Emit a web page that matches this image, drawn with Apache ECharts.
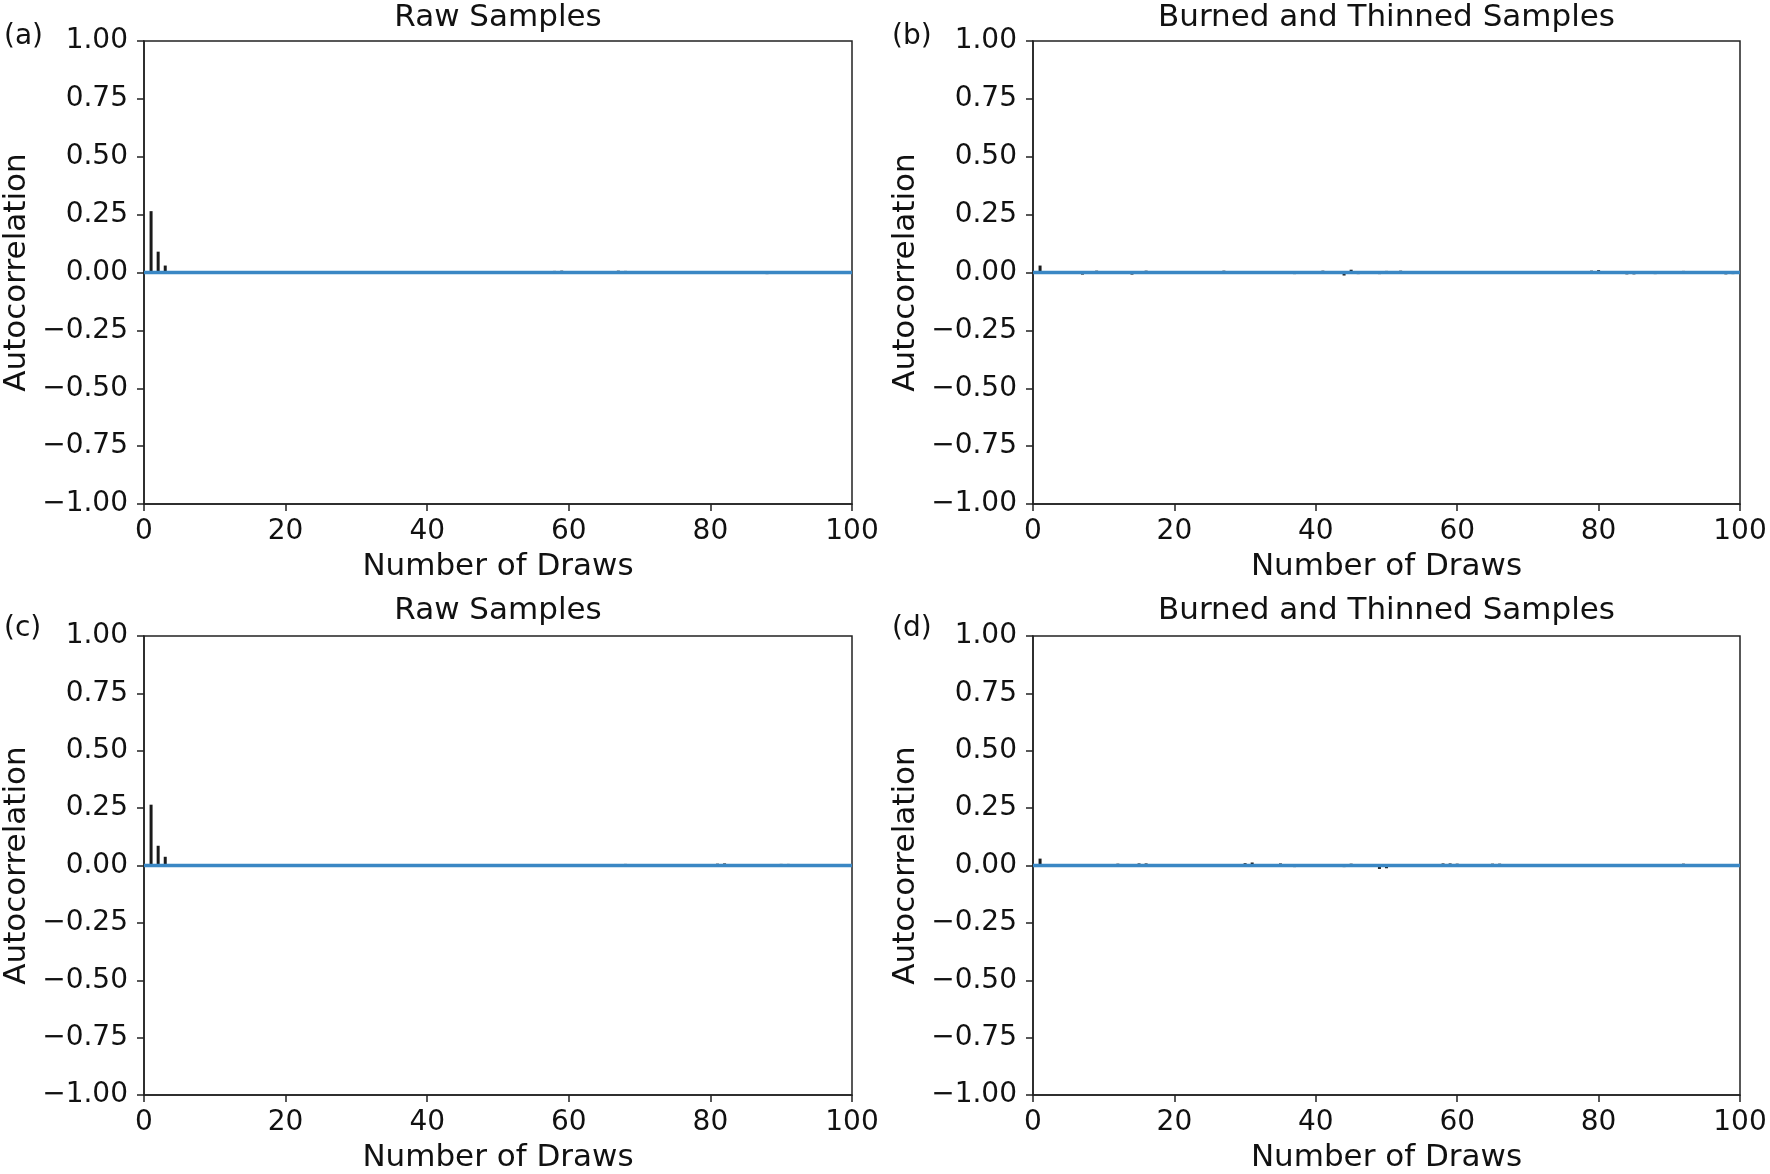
<!DOCTYPE html>
<html>
<head>
<meta charset="utf-8">
<script src="https://cdn.jsdelivr.net/npm/echarts@6/dist/echarts.min.js"></script>
<style>
html,body{margin:0;padding:0;background:#fff;width:1770px;height:1174px;overflow:hidden;}
#chart{width:1770px;height:1174px;overflow:hidden;}
</style>
</head>
<body>
<div id="chart"></div>
<script>
// Lags 1..99
const lagsStart = 1;
const rawA = [
 0.265, 0.090, 0.030, 0.004, -0.002, 0.003, 0.001, -0.003, 0.002, 0.001,
 -0.002, 0.003, 0.001, -0.001, 0.002, -0.003, 0.001, 0.002, -0.002, 0.001,
 0.003, -0.001, 0.002, -0.002, 0.001, 0.002, -0.003, 0.001, 0.003, -0.002,
 0.001, 0.002, -0.001, 0.003, -0.002, 0.001, 0.002, -0.003, 0.006, 0.004,
 -0.002, 0.003, 0.001, -0.001, 0.005, 0.006, -0.002, 0.001, 0.002, -0.003,
 0.001, 0.003, -0.002, 0.002, 0.001, -0.001, 0.003, 0.007, 0.008, -0.002,
 0.001, 0.002, -0.003, 0.001, 0.002, -0.001, 0.008, 0.007, -0.002, 0.001,
 0.002, -0.003, 0.001, 0.003, -0.002, 0.001, 0.002, -0.001, 0.003, -0.002,
 0.001, 0.002, -0.003, 0.001, 0.002, -0.001, 0.003, -0.007, 0.001, 0.002,
 -0.002, 0.001, 0.003, -0.001, 0.002, -0.003, 0.001, 0.002, -0.001
];
const thinB = [
 0.030, -0.006, 0.002, -0.003, 0.001, 0.002, -0.009, 0.001, 0.008, -0.002,
 0.001, 0.003, -0.002, -0.009, 0.002, 0.008, -0.001, 0.002, -0.003, 0.001,
 0.002, -0.001, 0.003, -0.005, 0.001, -0.006, 0.008, 0.001, -0.002, 0.005,
 0.001, -0.003, 0.002, 0.001, -0.002, -0.006, -0.007, -0.006, 0.002, -0.001,
 0.008, 0.002, -0.003, -0.013, 0.012, -0.007, 0.002, -0.001, -0.007, 0.007,
 0.001, 0.008, -0.002, 0.001, 0.003, -0.002, 0.001, 0.005, -0.003, 0.002,
 -0.001, 0.005, 0.001, -0.002, 0.003, 0.001, -0.002, 0.002, -0.001, 0.003,
 -0.002, 0.001, 0.002, 0.005, -0.001, 0.002, -0.003, 0.001, 0.008, 0.010,
 -0.002, 0.001, -0.003, -0.008, -0.008, 0.002, -0.001, -0.007, 0.002, 0.001,
 0.006, 0.007, -0.002, 0.001, 0.003, -0.002, 0.001, -0.008, -0.007
];
const rawC = [
 0.265, 0.086, 0.038, 0.003, -0.002, 0.001, 0.002, -0.003, 0.001, 0.002,
 -0.001, 0.003, -0.002, 0.001, 0.002, -0.003, 0.001, 0.002, -0.001, 0.003,
 -0.002, 0.001, 0.002, -0.001, 0.003, -0.002, 0.001, 0.002, -0.003, 0.001,
 0.002, -0.001, 0.003, -0.002, 0.001, 0.002, -0.003, 0.001, 0.002, -0.001,
 0.003, -0.002, 0.001, 0.002, -0.003, 0.001, 0.002, -0.001, 0.003, 0.006,
 -0.002, 0.001, 0.002, -0.003, 0.001, 0.002, -0.001, 0.003, -0.002, 0.001,
 0.002, 0.006, -0.003, 0.001, 0.002, -0.001, 0.003, 0.007, -0.002, 0.001,
 0.002, -0.003, 0.001, 0.002, -0.001, 0.003, -0.002, 0.001, 0.002, 0.006,
 0.008, 0.009, -0.003, 0.001, 0.002, -0.001, 0.003, -0.002, 0.006, 0.007,
 0.007, -0.002, 0.001, 0.002, -0.003, 0.001, 0.002, -0.001, 0.003
];
const thinD = [
 0.030, -0.006, 0.002, -0.001, 0.003, -0.002, 0.001, 0.002, 0.005, -0.002,
 0.001, 0.008, -0.002, 0.001, 0.009, 0.009, -0.002, 0.001, 0.006, -0.003,
 0.001, 0.002, -0.001, 0.003, -0.002, 0.001, 0.005, -0.002, 0.001, 0.010,
 0.013, -0.002, 0.001, -0.003, 0.009, 0.002, -0.007, 0.001, 0.002, -0.001,
 0.003, -0.002, 0.001, -0.007, 0.008, 0.002, -0.001, 0.003, -0.015, -0.012,
 0.001, 0.002, -0.003, 0.001, 0.002, -0.001, 0.003, 0.009, 0.009, 0.008,
 -0.002, 0.001, 0.002, -0.003, 0.008, 0.008, 0.001, -0.002, 0.002, -0.001,
 0.003, -0.002, 0.001, 0.002, -0.006, 0.001, 0.002, -0.001, 0.003, -0.002,
 0.005, 0.001, -0.002, 0.002, 0.005, -0.001, 0.003, -0.002, 0.001, 0.002,
 -0.003, 0.008, 0.001, -0.002, 0.002, -0.006, 0.001, 0.002, -0.001
];
const zeroX = [0, 100];
const zeroY = [0, 0];
const xTicks = [0, 20, 40, 60, 80, 100];
const yTicks = [-1, -0.75, -0.5, -0.25, 0, 0.25, 0.5, 0.75, 1];
const panelTitles = ['Raw Samples', 'Burned and Thinned Samples', 'Raw Samples', 'Burned and Thinned Samples'];
const panelLabels = ['(a)', '(b)', '(c)', '(d)'];
const xName = 'Number of Draws';
const yName = 'Autocorrelation';
const panelData = [rawA, thinB, rawC, thinD];

const FONT = 'DejaVu Sans';
const grids = [
  {left: 144, top: 41, width: 708, height: 463},
  {left: 1033, top: 41, width: 707, height: 463},
  {left: 144, top: 636, width: 708, height: 464},
  {left: 1033, top: 636, width: 707, height: 464}
];

const option = {
  backgroundColor: '#fff',
  animation: false,
  grid: grids.map(g => Object.assign({show: true, borderColor: '#222', borderWidth: 1.5, backgroundColor: 'transparent'}, g)),
  xAxis: grids.map((g, i) => ({
    gridIndex: i, type: 'value', min: xTicks[0], max: xTicks[xTicks.length-1], interval: 20,
    name: xName, nameLocation: 'middle', nameGap: 47,
    nameTextStyle: {fontFamily: FONT, fontSize: 31, color: '#111'},
    axisLine: {show: true, onZero: false, lineStyle: {color: '#222', width: 1.5}},
    axisTick: {show: true, length: 7, lineStyle: {color: '#222', width: 1.5}},
    axisLabel: {fontFamily: FONT, fontSize: 28, color: '#111', margin: 14},
    splitLine: {show: false}
  })),
  yAxis: grids.map((g, i) => ({
    gridIndex: i, type: 'value', min: yTicks[0], max: yTicks[yTicks.length-1], interval: 0.25,
    name: yName, nameLocation: 'middle', nameGap: 112,
    nameTextStyle: {fontFamily: FONT, fontSize: 31, color: '#111'},
    axisLine: {show: true, lineStyle: {color: '#222', width: 1.5}},
    axisTick: {show: true, length: 7, lineStyle: {color: '#222', width: 1.5}},
    axisLabel: {fontFamily: FONT, fontSize: 28, color: '#111', margin: 16,
      formatter: v => v.toFixed(2).replace('-', '\u2212')},
    splitLine: {show: false}
  })),
  series: [],
  graphic: []
};

panelData.forEach((arr, i) => {
  option.series.push({
    type: 'bar', xAxisIndex: i, yAxisIndex: i, barWidth: 3,
    itemStyle: {color: '#1a1a1a'},
    data: arr.map((v, k) => [lagsStart + k, v]),
    z: 2
  });
  option.series.push({
    type: 'line', xAxisIndex: i, yAxisIndex: i, symbol: 'none',
    lineStyle: {color: '#3a87c4', width: 3.5},
    data: zeroX.map((x, k) => [x, zeroY[k]]),
    z: 3
  });
  const g = grids[i];
  option.graphic.push({
    type: 'text',
    x: g.left + g.width / 2, y: i < 2 ? 18 : 611,
    style: {text: panelTitles[i], font: '31px "' + FONT + '"', fill: '#111',
      textAlign: 'center', textVerticalAlign: 'middle', verticalAlign: 'middle'}
  });
  option.graphic.push({
    type: 'text',
    x: i % 2 === 0 ? 4 : 892, y: i < 2 ? 37 : 629,
    style: {text: panelLabels[i], font: '28px "' + FONT + '"', fill: '#111',
      textAlign: 'left', textVerticalAlign: 'middle', verticalAlign: 'middle'}
  });
});

const chart = echarts.init(document.getElementById('chart'), null, {renderer: 'canvas'});
chart.setOption(option);
</script>
</body>
</html>
